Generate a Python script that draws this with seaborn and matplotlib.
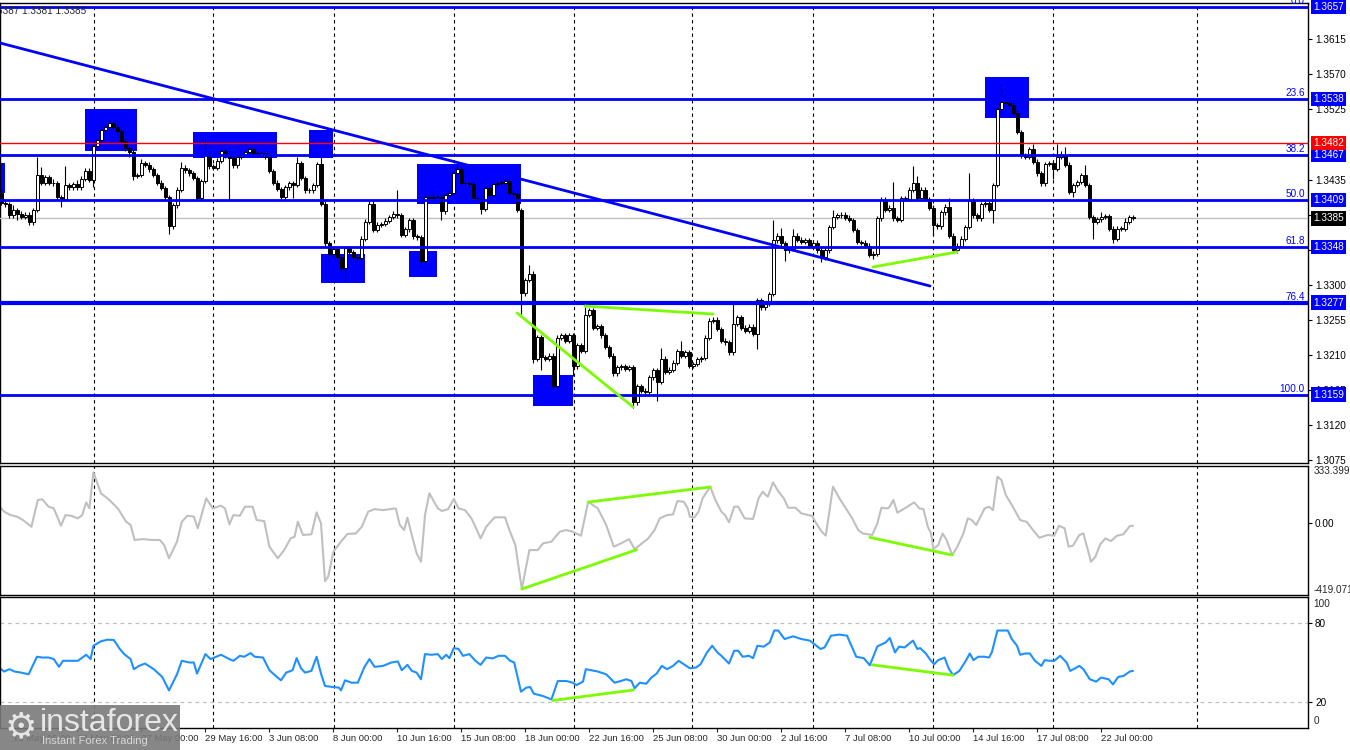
import numpy as np
import pandas as pd
import seaborn as sns
import matplotlib
matplotlib.use("Agg")
import matplotlib.pyplot as plt
import matplotlib.transforms as mtransforms
from matplotlib.patches import Rectangle

# H4 closes, in pips above 1.3000 (one value per bar)
close_pips = [
    405, 403, 389, 396, 391, 387, 390, 380, 396, 441,
    431, 438, 431, 430, 412, 410, 428, 425, 429, 425,
    436, 446, 435, 478, 486, 498, 502, 508, 503, 497,
    484, 475, 470, 440, 441, 456, 454, 448, 441, 431,
    424, 412, 375, 402, 422, 450, 447, 443, 437, 411,
    433, 467, 452, 450, 459, 471, 466, 462, 453, 464,
    468, 470, 474, 469, 467, 469, 464, 446, 431, 423,
    413, 425, 430, 428, 456, 437, 421, 421, 428, 455,
    404, 353, 339, 346, 335, 321, 347, 342, 336, 334,
    359, 381, 404, 370, 377, 378, 382, 387, 391, 389,
    364, 371, 383, 362, 361, 331, 413, 411, 412, 413,
    394, 415, 418, 443, 449, 430, 430, 429, 411, 410,
    397, 424, 415, 429, 431, 431, 433, 418, 416, 396,
    289, 306, 314, 205, 233, 207, 205, 209, 170, 232,
    235, 228, 235, 195, 222, 215, 261, 267, 245, 247,
    235, 220, 209, 186, 194, 195, 192, 194, 149, 170,
    164, 162, 181, 190, 175, 205, 188, 191, 200, 215,
    209, 213, 196, 198, 204, 206, 232, 254, 255, 243,
    228, 226, 213, 250, 258, 245, 241, 246, 237, 280,
    271, 276, 288, 357, 363, 353, 344, 346, 363, 358,
    355, 357, 350, 354, 344, 335, 344, 374, 387, 389,
    390, 386, 383, 370, 355, 354, 350, 338, 340, 385,
    409, 396, 399, 385, 383, 411, 410, 422, 431, 411,
    422, 410, 399, 376, 375, 393, 400, 363, 344, 350,
    359, 374, 408, 389, 385, 403, 405, 396, 428, 525,
    535, 533, 531, 521, 496, 466, 464, 474, 458, 443,
    430, 455, 456, 449, 464, 466, 454, 419, 428, 432,
    441, 428, 387, 381, 384, 387, 388, 372, 359, 372,
    372, 381, 387, 385,
]
first_open = 418

# wick lengths above / below the body, pips
up_wick = [
    4, 3, 3, 6, 3, 3, 3, 3, 3, 23,
    10, 3, 3, 5, 3, 3, 24, 3, 3, 5,
    3, 4, 4, 3, 3, 3, 3, 3, 4, 3,
    3, 3, 3, 3, 3, 5, 3, 3, 3, 3,
    3, 3, 3, 3, 3, 7, 3, 3, 3, 3,
    3, 21, 3, 3, 3, 3, 3, 3, 3, 3,
    3, 3, 3, 3, 3, 3, 3, 3, 3, 3,
    3, 3, 3, 3, 8, 3, 3, 3, 3, 3,
    11, 3, 3, 3, 3, 3, 3, 3, 3, 3,
    3, 3, 3, 3, 3, 3, 3, 3, 3, 30,
    3, 3, 3, 3, 3, 3, 3, 3, 10, 3,
    3, 3, 3, 3, 5, 3, 3, 3, 3, 3,
    3, 3, 3, 3, 3, 3, 3, 3, 3, 3,
    3, 3, 11, 3, 3, 3, 3, 3, 3, 3,
    3, 3, 3, 3, 3, 3, 10, 3, 3, 3,
    3, 3, 3, 3, 3, 3, 3, 3, 3, 3,
    3, 3, 3, 3, 3, 14, 3, 3, 3, 3,
    13, 3, 3, 3, 3, 3, 3, 3, 3, 3,
    3, 3, 3, 25, 3, 3, 3, 3, 3, 3,
    3, 3, 3, 26, 3, 10, 3, 3, 8, 3,
    3, 3, 3, 3, 3, 3, 3, 3, 9, 3,
    3, 3, 3, 3, 3, 3, 3, 3, 3, 3,
    3, 3, 3, 33, 3, 3, 3, 3, 21, 8,
    3, 3, 3, 3, 3, 3, 3, 11, 3, 3,
    3, 3, 35, 3, 3, 3, 3, 3, 3, 3,
    22, 10, 3, 3, 3, 3, 3, 3, 6, 3,
    3, 3, 3, 3, 16, 6, 11, 3, 3, 3,
    3, 12, 3, 3, 3, 6, 3, 3, 3, 3,
    3, 4, 3, 2,
]
dn_wick = [
    3, 3, 4, 3, 8, 3, 3, 4, 3, 3,
    3, 3, 3, 3, 3, 10, 3, 3, 3, 3,
    3, 3, 3, 10, 3, 3, 3, 3, 3, 3,
    3, 3, 6, 5, 3, 3, 3, 3, 3, 3,
    3, 3, 10, 3, 3, 3, 3, 3, 3, 4,
    3, 3, 3, 3, 3, 3, 3, 53, 3, 3,
    3, 3, 3, 3, 3, 3, 3, 3, 3, 3,
    3, 3, 3, 17, 3, 3, 3, 3, 3, 3,
    3, 3, 8, 3, 3, 3, 15, 3, 3, 3,
    3, 3, 3, 3, 3, 3, 3, 3, 3, 3,
    3, 3, 3, 3, 3, 8, 3, 3, 3, 3,
    11, 3, 3, 3, 3, 3, 3, 3, 3, 3,
    6, 3, 3, 3, 3, 3, 3, 3, 3, 3,
    26, 3, 3, 5, 3, 17, 3, 3, 2, 6,
    3, 3, 3, 12, 3, 3, 3, 3, 3, 3,
    3, 3, 3, 3, 3, 3, 3, 3, 7, 3,
    3, 3, 3, 3, 24, 3, 3, 3, 3, 3,
    3, 3, 3, 3, 3, 3, 3, 3, 3, 3,
    3, 3, 3, 3, 3, 3, 3, 3, 3, 19,
    3, 3, 3, 3, 3, 3, 13, 3, 3, 3,
    3, 3, 3, 3, 3, 6, 3, 3, 3, 3,
    3, 3, 3, 3, 3, 3, 3, 3, 5, 3,
    3, 3, 3, 3, 3, 3, 3, 3, 3, 3,
    3, 3, 3, 12, 3, 3, 3, 3, 3, 3,
    3, 3, 3, 3, 3, 3, 3, 3, 17, 3,
    3, 3, 3, 3, 3, 3, 3, 3, 3, 3,
    3, 3, 3, 13, 3, 3, 3, 3, 7, 3,
    3, 3, 3, 22, 3, 3, 3, 3, 5, 3,
    3, 3, 3, 2,
]

# CCI line (bar, value)
cci_bars = [
    -0.3, 0.8, 2.4, 4.0, 5.5, 7.6, 9.2, 10.3, 11.9, 13.2,
    15.0, 16.1, 17.6, 19.2, 20.3, 21.3, 22.1, 23.1, 25.0, 27.1,
    29.2, 31.3, 32.4, 33.4, 35.5, 37.6, 39.7, 40.8, 42.0, 44.0,
    45.2, 46.6, 48.2, 49.2, 51.3, 52.9, 55.0, 56.0, 57.1, 58.1,
    59.7, 61.0, 62.9, 63.9, 65.8, 67.1, 69.2, 70.8, 72.4, 73.4,
    74.2, 75.5, 77.6, 78.9, 80.0, 81.0, 81.8, 83.1, 85.0, 86.6,
    88.7, 90.2, 91.8, 93.4, 95.5, 98.7, 99.7, 100.8, 101.6, 102.7,
    103.9, 105.0, 106.0, 107.1, 109.2, 110.2, 111.8, 113.2, 114.4, 116.0,
    117.6, 118.6, 119.9, 121.3, 123.4, 126.0, 127.1, 128.6, 130.2, 132.1,
    134.2, 135.5, 137.6, 139.7, 141.3, 142.9, 145.0, 146.8, 149.2, 151.3,
    153.2, 155.0, 157.0, 158.4, 159.7, 161.8, 163.4, 164.7, 166.5, 168.0,
    169.1, 170.7, 171.7, 172.2, 173.3, 174.4, 175.4, 177.3, 178.6, 180.1,
    181.0, 182.0, 183.3, 184.3, 185.9, 188.0, 189.4, 190.4, 191.7, 193.0,
    194.3, 195.7, 196.8, 198.6, 200.1, 202.8, 203.8, 205.2, 206.2, 208.0,
    209.6, 211.2, 212.8, 214.3, 215.4, 217.8, 219.1, 220.1, 221.4, 222.0,
    223.1, 224.1, 225.9, 228.3, 229.6, 230.6, 231.7, 232.5, 233.1, 234.3,
    235.4, 236.4, 237.8, 239.1, 240.6, 241.7, 242.7, 243.8, 245.9, 247.0,
    248.0, 249.1, 250.1, 251.2, 252.7, 254.8, 256.4, 258.0, 259.6, 261.7,
    263.3, 264.5, 265.9, 266.9, 268.0, 269.6, 270.6, 272.5, 273.6, 274.8,
    276.1, 277.5, 279.0, 280.6, 282.2, 283.0,
]
cci_vals = [
    96, 67, 47, 38, 18, -21, 135, 139, 96, 86,
    -15, 47, 43, 28, 47, 121, 86, 296, 174, 135,
    86, 8, -11, -98, -93, -98, -98, -128, -205, -108,
    8, 43, 38, -30, 145, 86, 102, 86, -7, 47,
    43, 96, 96, 18, 12, -137, -205, -157, -89, -79,
    8, -69, -65, 63, -1, -338, -312, -166, -108, -63,
    -60, -21, 67, 82, 76, 86, -11, -40, 32, -69,
    -176, -225, 47, 174, 86, 71, 82, 141, 86, 76,
    28, -21, -89, -21, 34, 34, -40, -128, -384, -157,
    -157, -118, -108, -50, -40, -50, -73, 125, 86, -11,
    -137, -118, -93, -151, -128, -89, -40, 28, 47, 51,
    129, 125, 86, 38, 32, 67, 145, 213, 135, 67,
    47, 5, 96, 96, 28, 24, 145, 183, 154, 238,
    187, 145, 90, 90, 57, 42, -1, -50, -73, 213,
    145, 86, 28, -40, -60, -69, -1, 90, 86, 90,
    135, 61, 86, 121, 86, 82, -21, -60, -151, -128,
    -60, -98, -186, -137, -60, 28, 18, -11, 86, 96,
    76, 271, 252, 164, 106, 18, 8, -40, -85, -69,
    -73, -15, -30, -137, -131, -69, -60, -225, -196, -124,
    -89, -104, -73, -65, -17, -15,
]

# RSI line (bar, value)
rsi_bars = [
    -0.3, 0.8, 2.1, 3.4, 5.0, 6.9, 9.0, 10.3, 11.9, 13.2,
    14.5, 15.5, 17.1, 19.2, 21.3, 22.4, 23.1, 25.0, 26.6, 28.2,
    29.7, 30.8, 32.4, 33.2, 34.5, 36.0, 38.2, 40.3, 42.0, 44.0,
    45.2, 47.1, 48.2, 49.0, 51.1, 52.4, 55.0, 57.1, 58.1, 59.7,
    60.8, 62.4, 63.4, 65.5, 67.1, 68.7, 70.0, 71.3, 72.9, 73.9,
    75.0, 76.0, 77.6, 78.9, 80.0, 81.0, 82.9, 84.5, 85.0, 86.0,
    87.6, 89.2, 90.8, 92.1, 93.4, 95.5, 97.6, 99.2, 100.2, 101.6,
    102.7, 103.9, 105.0, 106.0, 107.6, 109.2, 110.2, 111.3, 112.1, 113.2,
    114.4, 115.5, 117.1, 118.6, 119.9, 121.3, 122.9, 124.4, 126.0, 127.3,
    128.3, 130.0, 131.3, 132.3, 133.2, 135.5, 137.6, 139.2, 141.3, 142.9,
    143.9, 145.5, 146.2, 149.2, 151.3, 153.4, 155.0, 156.3, 157.6, 158.4,
    159.7, 161.3, 162.6, 163.9, 165.2, 166.5, 168.0, 169.4, 170.7, 172.2,
    173.8, 174.9, 176.5, 177.8, 179.1, 180.1, 182.0, 183.3, 184.3, 185.4,
    187.0, 188.0, 189.1, 190.7, 192.2, 193.3, 194.3, 195.9, 198.0, 200.1,
    202.2, 203.3, 204.9, 205.9, 207.5, 209.6, 211.5, 212.8, 213.8, 215.7,
    217.2, 219.1, 221.2, 222.2, 223.5, 224.5, 225.9, 228.0, 229.1, 229.8,
    231.2, 232.5, 233.3, 234.3, 235.9, 236.9, 238.0, 239.6, 241.2, 242.2,
    243.1, 244.3, 245.9, 247.0, 247.7, 249.1, 250.4, 251.7, 252.7, 254.0,
    254.8, 256.1, 257.2, 258.5, 260.1, 260.9, 262.2, 263.3, 264.8, 266.4,
    267.3, 268.5, 269.6, 270.6, 272.2, 273.8, 275.0, 276.9, 278.0, 279.3,
    280.6, 282.2, 283.0,
]
rsi_vals = [
    45.6, 43.1, 44.9, 43.1, 42.3, 41.0, 54.4, 53.8, 53.8, 52.6,
    46.7, 51.3, 51.3, 51.3, 55.9, 52.6, 62.8, 66.2, 67.4, 67.2,
    60.3, 56.4, 52.6, 44.9, 47.4, 49.2, 44.9, 39.0, 28.7, 41.0,
    51.3, 50.0, 50.0, 41.5, 56.4, 52.6, 55.9, 52.6, 51.3, 55.1,
    54.4, 57.2, 54.4, 53.8, 44.1, 39.7, 36.4, 42.3, 44.1, 53.3,
    45.6, 42.3, 43.6, 54.4, 41.5, 32.1, 31.3, 30.8, 28.7, 36.4,
    34.6, 34.6, 46.2, 52.6, 46.7, 47.4, 50.0, 50.8, 44.1, 48.2,
    43.6, 42.3, 37.2, 56.4, 55.9, 56.4, 52.6, 55.9, 53.3, 61.0,
    60.3, 55.1, 56.4, 51.3, 48.2, 53.8, 53.1, 55.1, 55.1, 51.3,
    50.0, 27.7, 30.8, 31.3, 26.2, 24.4, 21.8, 35.9, 35.9, 34.6,
    32.8, 35.4, 44.9, 43.1, 41.0, 34.6, 35.9, 37.2, 35.9, 30.3,
    34.6, 33.8, 38.5, 41.5, 47.4, 44.9, 47.4, 51.3, 48.7, 45.6,
    46.2, 48.7, 57.7, 62.8, 57.7, 55.1, 49.2, 59.0, 59.0, 54.4,
    55.1, 53.3, 62.8, 62.1, 65.4, 74.4, 74.4, 67.9, 70.0, 67.9,
    66.7, 64.1, 60.3, 61.5, 70.5, 71.3, 70.5, 61.5, 54.4, 53.3,
    47.9, 62.3, 65.4, 68.7, 57.7, 62.1, 61.5, 66.7, 60.3, 61.0,
    56.9, 51.3, 48.7, 51.8, 53.8, 45.6, 40.3, 43.6, 51.3, 56.9,
    51.8, 54.4, 54.4, 53.8, 57.7, 74.4, 74.4, 74.4, 67.9, 62.8,
    55.9, 56.9, 56.9, 51.3, 47.4, 51.8, 51.3, 51.3, 55.1, 50.0,
    43.6, 45.6, 47.4, 44.9, 37.2, 35.4, 38.5, 37.2, 33.3, 39.0,
    39.7, 43.1, 43.6,
]

# Fibonacci levels and the price tags on the right
fib_levels = [1.3657, 1.3538, 1.3467, 1.3409, 1.3348, 1.3277, 1.3159]
fib_names = ["0.0", "23.6", "38.2", "50.0", "61.8", "76.4", "100.0"]
fib_widths = [2, 2, 2, 2, 2, 3, 2]
red_level = 1.3482
last_price = 1.3385

# blue zones: (first bar, last bar, low, high)
zones = [
    (21.0, 34.0, 1.34716, 1.35255),
    (48.0, 69.0, 1.34626, 1.34960),
    (77.0, 83.0, 1.34626, 1.34985),
    (-0.25, 1.0, 1.34177, 1.34562),
    (80.0, 91.0, 1.33022, 1.33394),
    (102.0, 109.0, 1.33099, 1.33432),
    (104.0, 130.0, 1.34036, 1.34549),
    (133.0, 143.0, 1.31443, 1.31841),
    (246.0, 257.0, 1.35140, 1.35666),
]
trend_bars = [-0.25, 232.25]
trend_prices = [1.36103, 1.32983]

# divergence lines
price_div = [((129.0, 1.32637), (158.0, 1.31431)),
             ((146.0, 1.32726), (178.0, 1.32623)),
             ((218.0, 1.33227), (239.0, 1.33420))]
cci_div = [((130.2, -384), (158.9, -155)),
           ((146.8, 123), (177.3, 211)),
           ((217.2, -83), (237.8, -186))]
rsi_div = [((137.9, 21.0), (158.1, 29.0)),
           ((217.8, 48.2), (238.0, 40.3))]

week_lines = [23.2, 53.0, 83.2, 113.2, 143.2, 172.8, 203.0, 233.0, 263.0, 299.0]
tick_bars = [-13, 3, 19, 35, 51, 67, 83, 99, 115, 131, 147, 163, 179, 195,
             211, 227, 243, 259, 275]
tick_labels = ["15 May 00:00", "19 May 16:00", "22 May 08:00", "27 May 00:00",
               "29 May 16:00", "3 Jun 08:00", "8 Jun 00:00", "10 Jun 16:00",
               "15 Jun 08:00", "18 Jun 00:00", "22 Jun 16:00", "25 Jun 08:00",
               "30 Jun 00:00", "2 Jul 16:00", "7 Jul 08:00", "10 Jul 00:00",
               "14 Jul 16:00", "17 Jul 08:00", "22 Jul 00:00"]
price_ticks = [1.3075, 1.3120, 1.3165, 1.3210, 1.3255, 1.3300, 1.3345, 1.3390,
               1.3435, 1.3525, 1.3570, 1.3615]

BLUE = "#0000ff"
GREEN = "#7cfc00"
SILVER = "#c0c0c0"

sns.set_style("white")
plt.rcParams["font.family"] = ["Liberation Sans", "DejaVu Sans"]
FS = 7.2

fig = plt.figure(figsize=(13.5, 7.5), dpi=100)
W = 1308 / 1350
ax = fig.add_axes([0, 287 / 750, W, 460 / 750])
ax_cci = fig.add_axes([0, 155 / 750, W, 129 / 750])
ax_rsi = fig.add_axes([0, 22 / 750, W, 131 / 750])

# candles
c = 1.3 + np.array(close_pips) / 10000
o = 1.3 + np.array([first_open] + close_pips[:-1]) / 10000
hi = np.maximum(o, c) + np.array(up_wick) / 10000
lo = np.minimum(o, c) - np.array(dn_wick) / 10000
x = np.arange(len(c))
body = np.maximum(np.abs(c - o), 0.00004)
bull = c >= o
ax.vlines(x, lo, hi, color="black", lw=0.8, zorder=4)
ax.bar(x[bull], body[bull], bottom=np.minimum(o, c)[bull], width=0.75,
       facecolor="white", edgecolor="black", lw=0.7, zorder=5)
ax.bar(x[~bull], body[~bull], bottom=np.minimum(o, c)[~bull], width=0.75,
       facecolor="black", edgecolor="black", lw=0.7, zorder=5)

for x0, x1, y0, y1 in zones:
    ax.add_patch(Rectangle((x0, y0), x1 - x0, y1 - y0, facecolor=BLUE,
                           edgecolor="none", zorder=2))

trans = mtransforms.blended_transform_factory(ax.transAxes, ax.transData)
for lev, name, lw in zip(fib_levels, fib_names, fib_widths):
    ax.axhline(lev, color=BLUE, lw=lw, zorder=6)
    ax.text(0.9975, lev + 0.00012, name, transform=trans, ha="right",
            va="bottom", fontsize=FS, color=BLUE, clip_on=False, zorder=8)
ax.axhline(red_level, color="red", lw=1, zorder=6)
ax.axhline(last_price, color=SILVER, lw=1, zorder=3)
ax.plot(trend_bars, trend_prices, color=BLUE, lw=2, zorder=6)
for (xa, ya), (xb, yb) in price_div:
    ax.plot([xa, xb], [ya, yb], color=GREEN, lw=2, zorder=7)

tags = [(lev, BLUE) for lev in fib_levels] + [(red_level, "red"), (last_price, "black")]
for lev, col in tags:
    ax.text(1313 / 1308, lev, f"{lev:.4f}", transform=trans, ha="left",
            va="center", fontsize=FS, color="white", clip_on=False, zorder=10,
            bbox=dict(boxstyle="square,pad=0.22", fc=col, ec="none"))

ax.set_ylim(1.30711, 1.36616)
ax.yaxis.tick_right()
ax.set_yticks(price_ticks)
ax.set_yticklabels([f"{p:.4f}" for p in price_ticks])

# CCI
df_cci = pd.DataFrame({"bar": cci_bars, "cci": cci_vals})
sns.lineplot(data=df_cci, x="bar", y="cci", ax=ax_cci, color=SILVER, lw=1.5,
             sort=False)
for (xa, ya), (xb, yb) in cci_div:
    ax_cci.plot([xa, xb], [ya, yb], color=GREEN, lw=2, zorder=7)
ax_cci.set_ylim(-419.0717, 333.3997)
ax_cci.yaxis.tick_right()
ax_cci.set_yticks([0])
ax_cci.set_yticklabels(["0.00"])
ax_cci.text(1.004, 1.0, "333.3997", transform=ax_cci.transAxes, ha="left",
            va="top", fontsize=FS, clip_on=False)
ax_cci.text(1.004, 0.0, "-419.0717", transform=ax_cci.transAxes, ha="left",
            va="bottom", fontsize=FS, clip_on=False)

# RSI
df_rsi = pd.DataFrame({"bar": rsi_bars, "rsi": rsi_vals})
sns.lineplot(data=df_rsi, x="bar", y="rsi", ax=ax_rsi, color="#1e90ff", lw=1.5,
             sort=False)
for (xa, ya), (xb, yb) in rsi_div:
    ax_rsi.plot([xa, xb], [ya, yb], color=GREEN, lw=2, zorder=7)
for lev in [80, 20]:
    ax_rsi.axhline(lev, color=SILVER, lw=0.9, ls=(0, (3, 3)), zorder=1)
ax_rsi.set_ylim(0, 100)
ax_rsi.yaxis.tick_right()
ax_rsi.set_yticks([80, 20])
ax_rsi.set_yticklabels(["80", "20"])
ax_rsi.text(1.004, 0.985, "100", transform=ax_rsi.transAxes, ha="left",
            va="top", fontsize=FS, clip_on=False)
ax_rsi.text(1.004, 0.015, "0", transform=ax_rsi.transAxes, ha="left",
            va="bottom", fontsize=FS, clip_on=False)

for a in [ax, ax_cci, ax_rsi]:
    a.set_xlim(-0.25, 326.75)
    a.set_facecolor("white")
    a.set_xlabel("")
    a.set_ylabel("")
    for s in a.spines.values():
        s.set_color("black")
        s.set_linewidth(1)
    for b in week_lines:
        a.axvline(b, color="black", lw=0.8, ls=(0, (3, 3)), zorder=1)
    a.tick_params(axis="y", direction="out", length=3, width=0.8,
                  labelsize=FS, pad=2, colors="black")
    a.tick_params(axis="x", bottom=False, labelbottom=False)

ax_rsi.set_xticks(tick_bars)
ax_rsi.set_xticklabels(tick_labels, ha="left")
ax_rsi.tick_params(axis="x", bottom=True, labelbottom=True, direction="out",
                   length=3, width=0.8, labelsize=6.8, pad=1)
ax_rsi.set_xlim(-0.25, 326.75)

fig.text(-0.002, 739 / 750, "3387 1.3381 1.3385", fontsize=FS, va="center")

# watermark
fig.add_artist(Rectangle((0, 0), 180 / 1350, 45 / 750, transform=fig.transFigure,
                         facecolor="#7a7a7a", edgecolor="none", alpha=0.9,
                         zorder=20))
fig.text(5 / 1350, 23 / 750, "\u2699", fontsize=26, color="#e6e6e6",
         va="center", zorder=21, family="DejaVu Sans")
fig.text(40 / 1350, 27 / 750, "instaforex", fontsize=23, color="#e6e6e6",
         va="center", zorder=21)
fig.text(42 / 1350, 9 / 750, "Instant Forex Trading", fontsize=8,
         color="#d8d8d8", va="center", zorder=21)

fig.savefig("out.png", dpi=100)
